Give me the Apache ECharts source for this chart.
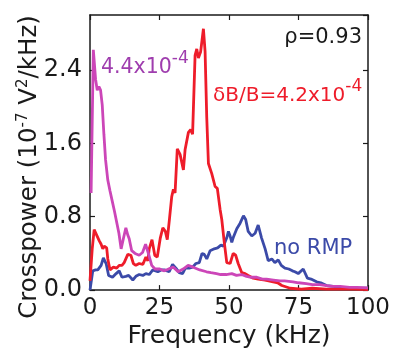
<!DOCTYPE html>
<html>
<head>
<meta charset="utf-8">
<script src="https://cdn.jsdelivr.net/npm/echarts@6/dist/echarts.min.js"></script>
<style>
html,body{margin:0;padding:0;background:#fff;}
#chart{width:393px;height:354px;}
</style>
</head>
<body>
<div id="chart"></div>
<script>
// ---- data ----
const xTicks = [0, 25, 50, 75, 100];
const yTicks = [0.0, 0.8, 1.6, 2.4];

const magentaFreq = [0.4,1.2,2.0,2.6,3.2,3.8,4.4,5.0,5.6,6.4,7.2,8.0,8.8,9.6,10.4,11.2,12.0,12.9,13.6,14.1,15.0,16.2,17.7,18.9,20.0,20.5,21.2,22.2,23.4,25.1,26.5,27.5,29,30,31.7,33.5,35.3,37.1,39.5,41.9,43.5,45.5,47,49,51,52.7,54.5,56.3,58,60,62,63.5,66,68.3,70,73,75,77.8,80,82.6,85,87.4,90,93.4,96,100];
const magentaVal  = [1.06,2.62,2.30,2.18,2.22,2.18,2.02,1.70,1.42,1.20,1.08,0.97,0.86,0.74,0.62,0.45,0.56,0.68,0.60,0.56,0.43,0.40,0.38,0.41,0.50,0.52,0.38,0.27,0.23,0.23,0.21,0.22,0.24,0.25,0.20,0.23,0.27,0.25,0.22,0.20,0.19,0.18,0.17,0.17,0.18,0.16,0.17,0.15,0.14,0.14,0.12,0.12,0.11,0.10,0.10,0.09,0.08,0.07,0.06,0.06,0.05,0.04,0.04,0.03,0.03,0.025];

const redFreq = [0,0.8,1.5,2.4,3.3,4.0,4.6,5.1,6.0,6.4,7.2,8.4,9.6,10.5,11.5,12.3,13.6,14.7,15.6,16.5,17.7,19.0,20.1,20.8,21.3,22.3,23.3,24.2,25.3,26.2,27.1,27.8,28.6,29.4,30.0,30.6,31.4,32.4,33.6,34.2,35.4,36.2,36.9,37.8,38.4,39.0,39.8,40.8,41.4,42.0,42.6,43.8,45.0,45.8,46.8,47.4,48.3,49.2,50.4,51.5,52.4,53.3,54.6,55.8,56.9,58.7,60.5,63,65.9,67.5,69,72,76,80,85,90,95,100];
const redVal  = [0.10,0.45,0.66,0.60,0.54,0.50,0.45,0.48,0.46,0.34,0.22,0.25,0.24,0.27,0.27,0.30,0.39,0.38,0.29,0.27,0.29,0.28,0.36,0.32,0.45,0.55,0.38,0.36,0.57,0.68,0.64,0.55,0.78,1.02,1.10,1.06,1.54,1.48,1.31,1.53,1.72,1.75,1.70,2.56,2.63,2.53,2.60,2.85,2.60,1.88,1.38,1.27,1.13,1.11,0.88,0.77,0.52,0.30,0.29,0.40,0.38,0.29,0.19,0.18,0.16,0.13,0.12,0.11,0.09,0.08,0.05,0.02,0.01,0.02,0.01,0.01,0.01,0.005];

const blueFreq = [0,1.0,2.0,2.8,4.0,4.8,5.8,6.7,8.1,9.4,10.5,11.5,12.9,13.9,15.4,16.5,17.7,19,20.1,21.3,22.6,24.4,25.6,26.7,28.5,29.7,30.9,32.1,33.3,34.3,35.7,36.9,38.1,39.3,40.3,41.1,42,43.2,44.7,45.9,47.1,48,49.2,49.8,50.4,51,51.5,52.8,54,55.2,56,56.9,58.2,59.4,60.5,61.7,63,64.1,65.4,66.5,67.7,68.8,70.1,71.5,72.8,73.7,74.9,76.7,78.2,79.5,81.5,83,85.1,87.5,89.9,93,96,100];
const blueVal  = [0,0.21,0.22,0.22,0.27,0.35,0.29,0.16,0.14,0.18,0.21,0.14,0.15,0.16,0.11,0.15,0.17,0.16,0.18,0.17,0.22,0.20,0.22,0.22,0.20,0.28,0.24,0.19,0.18,0.24,0.24,0.25,0.29,0.30,0.40,0.39,0.34,0.43,0.45,0.46,0.49,0.48,0.57,0.64,0.59,0.52,0.57,0.67,0.73,0.81,0.77,0.64,0.59,0.62,0.71,0.57,0.45,0.32,0.34,0.30,0.33,0.27,0.24,0.23,0.21,0.20,0.18,0.23,0.13,0.12,0.09,0.08,0.05,0.04,0.03,0.03,0.025,0.02];

const zip = (xs, ys) => xs.map((x, i) => [x, ys[i]]);

const FONT = 'DejaVu Sans';
const C_MAG = '#cc46b8', C_MAG_TXT = '#9f3dae';
const C_RED = '#ee1c2a';
const C_BLUE = '#3b4aa8';
const INK = '#1a1a1a';

const chart = echarts.init(document.getElementById('chart'), null, {renderer: 'canvas'});

const frameAxis = () => ({
  axisLine: {show: true, onZero: false, lineStyle: {color: INK, width: 1.5}},
  axisTick: {show: true, inside: true, length: 5, lineStyle: {color: INK, width: 1.2}},
  splitLine: {show: false}
});

chart.setOption({
  animation: false,
  backgroundColor: '#fff',
  grid: {left: 90, right: 25, top: 15, bottom: 59},
  xAxis: [
    Object.assign({
      type: 'value', min: xTicks[0], max: xTicks[xTicks.length - 1], interval: 25, position: 'bottom',
      name: 'Frequency (kHz)', nameLocation: 'middle', nameGap: 26,
      nameTextStyle: {fontFamily: FONT, fontSize: 25, color: INK},
      axisLabel: {fontFamily: FONT, fontSize: 23, color: INK, margin: 6}
    }, frameAxis()),
    Object.assign({
      type: 'value', min: xTicks[0], max: xTicks[xTicks.length - 1], interval: 25, position: 'top',
      axisLabel: {show: false}
    }, frameAxis())
  ],
  yAxis: [
    Object.assign({
      type: 'value', min: 0, max: 3.0, interval: 0.8, position: 'left',
      axisLabel: {fontFamily: FONT, fontSize: 24, color: INK, margin: 8, showMaxLabel: false,
        formatter: v => (yTicks.indexOf(Math.round(v*10)/10) >= 0 ? v.toFixed(1) : '')}
    }, frameAxis()),
    Object.assign({
      type: 'value', min: 0, max: 3.0, interval: 0.8, position: 'right',
      axisLabel: {show: false}
    }, frameAxis())
  ],
  series: [
    {type: 'line', name: 'no RMP', data: zip(blueFreq, blueVal), showSymbol: false, symbol: 'none',
      lineStyle: {color: C_BLUE, width: 2.8}, z: 2},
    {type: 'line', name: 'dB/B=4.2e-4', data: zip(redFreq, redVal), showSymbol: false, symbol: 'none',
      lineStyle: {color: C_RED, width: 2.8}, z: 3},
    {type: 'line', name: '4.4e-4', data: zip(magentaFreq, magentaVal), showSymbol: false, symbol: 'none',
      lineStyle: {color: C_MAG, width: 2.8}, z: 4}
  ],
  graphic: [
    {type: 'text', x: 30, y: 167, rotation: Math.PI / 2,
      style: {text: '{m|Crosspower (10}{s|-7}{m| V}{s|2}{m|/kHz)}',
        textAlign: 'center', textVerticalAlign: 'middle',
        rich: {
          m: {fontFamily: FONT, fontSize: 24.5, fill: INK, lineHeight: 28, verticalAlign: 'middle'},
          s: {fontFamily: FONT, fontSize: 15, fill: INK, lineHeight: 15, verticalAlign: 'top'}
        }}},
    {type: 'text', x: 362, y: 38,
      style: {text: 'ρ=0.93', font: '21px "DejaVu Sans"', fill: INK, textAlign: 'right', textVerticalAlign: 'middle'}},
    {type: 'text', x: 101, y: 50,
      style: {text: '{m|4.4x10}{s|-4}', textAlign: 'left', textVerticalAlign: 'top',
        rich: {
          m: {fontFamily: FONT, fontSize: 20.5, fill: C_MAG_TXT, lineHeight: 36, verticalAlign: 'middle'},
          s: {fontFamily: FONT, fontSize: 17, fill: C_MAG_TXT, lineHeight: 16, verticalAlign: 'top'}
        }}},
    {type: 'text', x: 213, y: 78,
      style: {text: '{m|δB/B=4.2x10}{s|-4}', textAlign: 'left', textVerticalAlign: 'top',
        rich: {
          m: {fontFamily: FONT, fontSize: 20, fill: C_RED, lineHeight: 36, verticalAlign: 'middle'},
          s: {fontFamily: FONT, fontSize: 17, fill: C_RED, lineHeight: 16, verticalAlign: 'top'}
        }}},
    {type: 'text', x: 274, y: 249,
      style: {text: 'no RMP', font: '21px "DejaVu Sans"', fill: C_BLUE, textAlign: 'left', textVerticalAlign: 'middle'}}
  ]
});
</script>
</body>
</html>
